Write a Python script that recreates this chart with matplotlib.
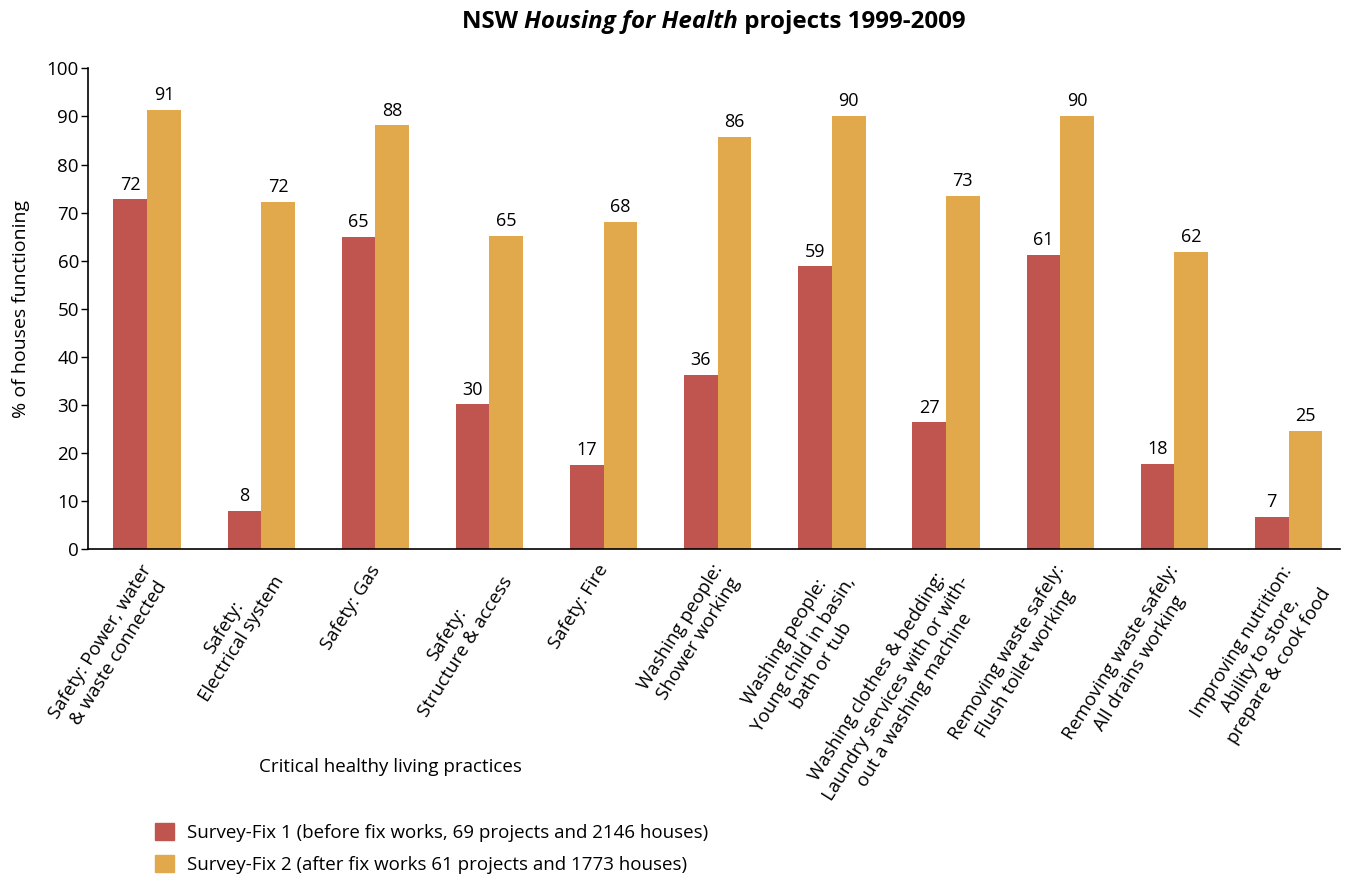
import matplotlib.pyplot as plt
import matplotlib.transforms as mtransforms
import numpy as np
from matplotlib.patches import Patch

plt.rcParams['font.family'] = ['Open Sans', 'DejaVu Sans']

categories = ['Safety: Power, water\n& waste connected',
              'Safety:\nElectrical system',
              'Safety: Gas',
              'Safety:\nStructure & access',
              'Safety: Fire',
              'Washing people:\nShower working',
              'Washing people:\nYoung child in basin,\nbath or tub',
              'Washing clothes & bedding:\nLaundry services with or with-\nout a washing machine',
              'Removing waste safely:\nFlush toilet working',
              'Removing waste safely:\nAll drains working',
              'Improving nutrition:\nAbility to store,\nprepare & cook food']
fix1 = [72.8, 7.9, 65.0, 30.1, 17.5, 36.2, 58.8, 26.4, 61.2, 17.7, 6.7]
fix2 = [91.4, 72.2, 88.2, 65.2, 68.1, 85.8, 90.1, 73.5, 90.1, 61.8, 24.6]
fix1_labels = [72, 8, 65, 30, 17, 36, 59, 27, 61, 18, 7]
fix2_labels = [91, 72, 88, 65, 68, 86, 90, 73, 90, 62, 25]
legend_labels = ['Survey-Fix 1 (before fix works, 69 projects and 2146 houses)',
                 'Survey-Fix 2 (after fix works 61 projects and 1773 houses)']

red = '#C0544F'
gold = '#E1A94B'

fig = plt.figure(figsize=(13.48, 8.77), dpi=100)
ax = fig.add_axes([0.0653, 0.374, 0.9287, 0.548])

x = np.arange(len(categories))
w = 0.295
b1 = ax.bar(x - w / 2, fix1, w, color=red)
b2 = ax.bar(x + w / 2, fix2, w, color=gold)

for rect, lab in zip(b1, fix1_labels):
    ax.annotate(str(lab), (rect.get_x() + rect.get_width() / 2, rect.get_height()),
                xytext=(0, 4), textcoords='offset points', ha='center', va='bottom', fontsize=13)
for rect, lab in zip(b2, fix2_labels):
    ax.annotate(str(lab), (rect.get_x() + rect.get_width() / 2, rect.get_height()),
                xytext=(0, 4), textcoords='offset points', ha='center', va='bottom', fontsize=13)

ax.set_xlim(-0.517, 10.45)
ax.set_ylim(0, 100)
ax.set_yticks(range(0, 101, 10))
ax.tick_params(axis='y', labelsize=13.5, length=5, width=1, pad=1.5)
ax.set_xticks(x)
ax.set_xticklabels(categories, rotation=58, ha='right', va='top', rotation_mode='anchor',
                   multialignment='center', fontsize=13.5, linespacing=1.28)
ax.tick_params(axis='x', length=0, pad=9)
shift = mtransforms.ScaledTranslation(-7 / 100, 0, fig.dpi_scale_trans)
for lbl in ax.get_xticklabels():
    lbl.set_transform(lbl.get_transform() + shift)
for s in ['top', 'right']:
    ax.spines[s].set_visible(False)
ax.spines['left'].set_linewidth(1.2)
ax.spines['bottom'].set_linewidth(1.2)

ax.set_ylabel('% of houses functioning', fontsize=14, labelpad=12)

fig.text(390 / 1348, 1 - 767 / 877, 'Critical healthy living practices', ha='center', va='center', fontsize=13.5)

# title in three pieces (bold / bold italic / bold)
t1 = fig.text(462 / 1348, 1 - 22 / 877, 'NSW ', fontsize=17.4, fontweight='bold', va='center', ha='left')
t2 = ax.annotate('Housing for Health', xy=(1, 0), xycoords=t1, va='bottom', ha='left',
                 fontsize=17.4, fontweight='bold', fontstyle='italic')
t3 = ax.annotate(' projects 1999-2009', xy=(1, 0), xycoords=t2, va='bottom', ha='left',
                 fontsize=17.4, fontweight='bold')

handles = [Patch(color=red), Patch(color=gold)]
fig.legend(handles, legend_labels, loc='upper left', bbox_to_anchor=(138 / 1348, 1 - 806 / 877),
           frameon=False, fontsize=13.5, handlelength=1.0, handleheight=1.05, labelspacing=0.7,
           handletextpad=0.7)

fig.savefig('out.png', dpi=100)
